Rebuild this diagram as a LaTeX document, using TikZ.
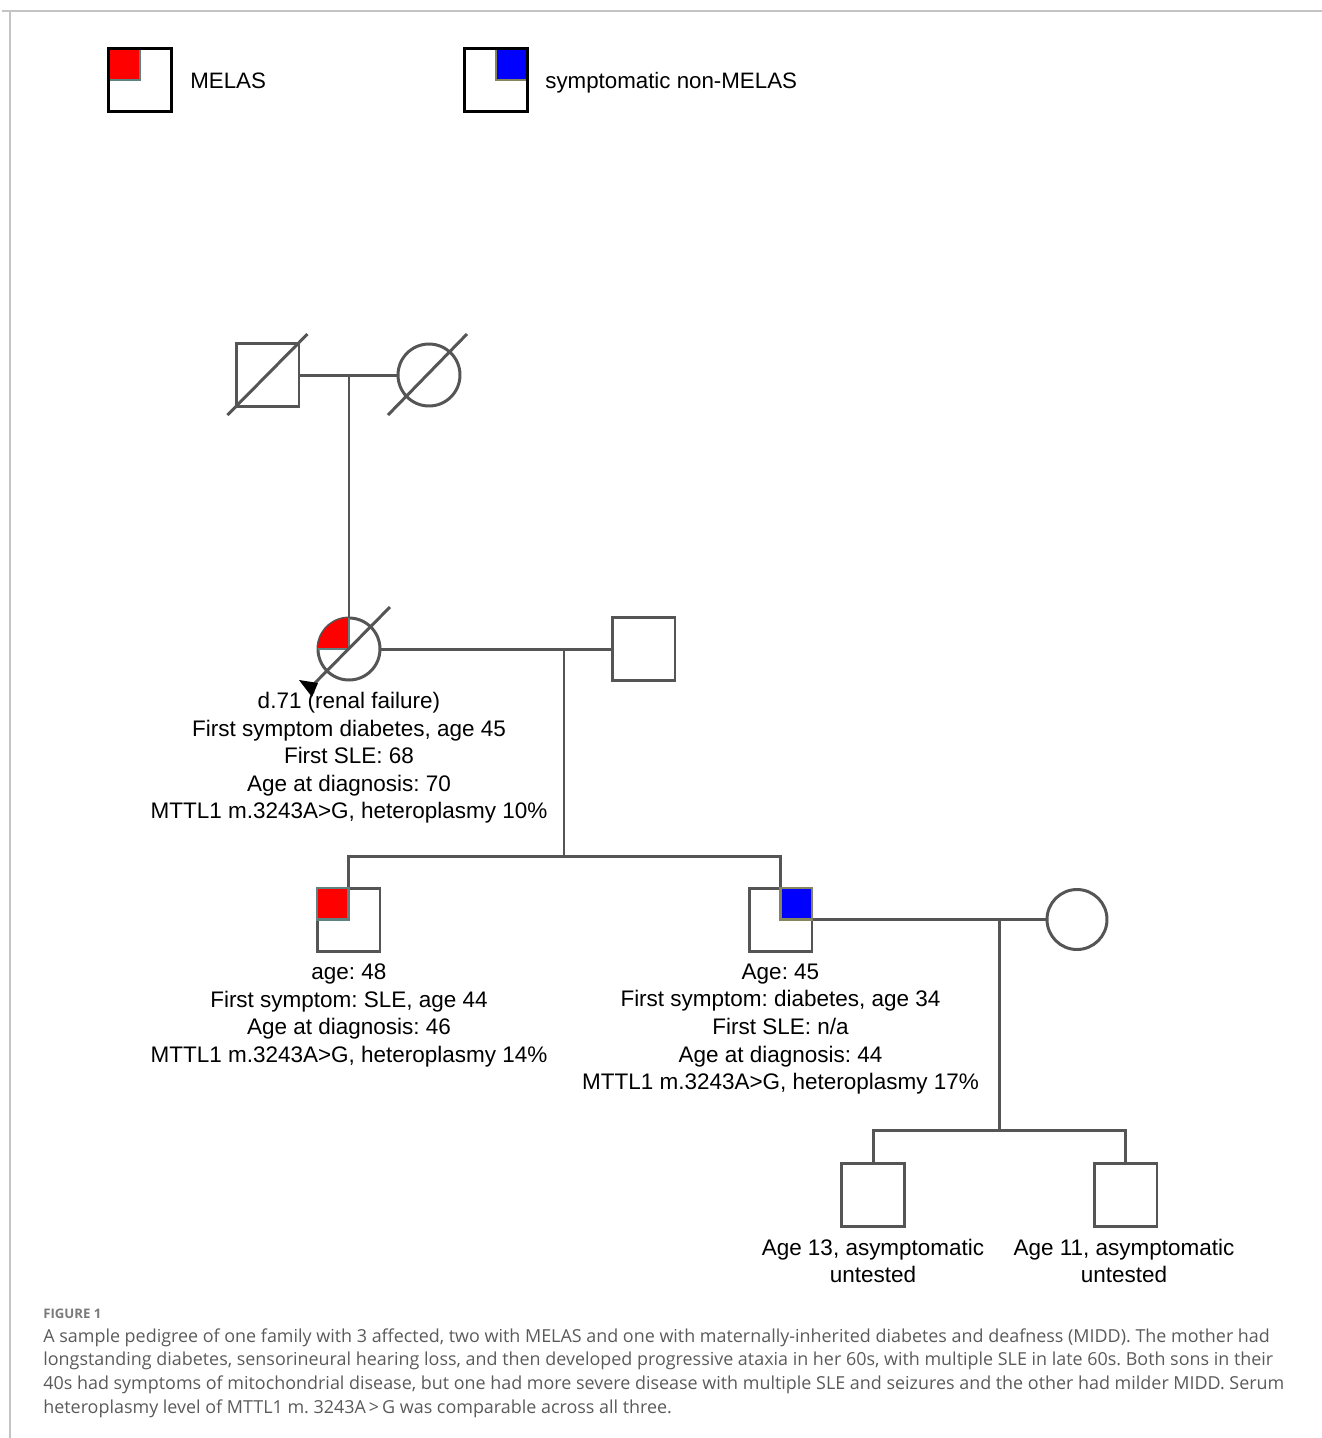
\documentclass[tikz,border=0pt]{standalone}
\usepackage{fontspec}
\setmainfont{Liberation Sans}
\newfontfamily\capfont{Open Sans}
\usetikzlibrary{positioning,calc}
\frenchspacing
\definecolor{pedgray}{HTML}{555555}
\definecolor{framegray}{HTML}{C4C4C4}
\definecolor{melasred}{HTML}{FF0000}
\definecolor{melasedge}{HTML}{5E8282}
\definecolor{nonblue}{HTML}{0000FF}
\definecolor{nonedge}{HTML}{86865E}
\definecolor{capgray}{HTML}{5A5A5A}
\definecolor{figgray}{HTML}{7A7A7A}
\tikzset{
  male/.style={rectangle, draw=pedgray, line width=1.7pt, minimum size=1.26cm, inner sep=0pt},
  female/.style={circle, draw=pedgray, line width=1.7pt, minimum size=1.24cm, inner sep=0pt},
  legbox/.style={rectangle, draw=black, line width=1.9pt, minimum size=1.27cm, inner sep=0pt},
  link/.style={draw=pedgray, line width=1.7pt},
  slash/.style={draw=pedgray, line width=1.7pt},
  melasq/.style={fill=melasred, draw=melasedge, line width=1.4pt},
  nonq/.style={fill=nonblue, draw=nonedge, line width=1.4pt},
  pedtext/.style={align=center, inner sep=0pt, text=black, font=\fontsize{12.8}{15.7}\selectfont},
  legtext/.style={anchor=base west, inner sep=0pt, text=black, font=\fontsize{12.7}{15.7}\selectfont},
  figtag/.style={anchor=base west, inner sep=0pt, text=figgray, font=\capfont\bfseries\fontsize{7.5}{9}\selectfont},
  captext/.style={anchor=north west, align=left, inner sep=0pt, text=capgray, font=\capfont\fontsize{10.2}{13.6}\selectfont}
}

\begin{document}
\begin{tikzpicture}[x=0.02cm, y=-0.02cm]
  \useasboundingbox (0,0) rectangle (1322,1438);
  \draw[framegray, line width=1.1pt] (2,11) -- (1322,11);
  \draw[framegray, line width=1.1pt] (10,11) -- (10,1438);

  % legend
  \coordinate (lm) at (140,80);
  \fill[melasred] (lm) rectangle ++(-31,-31);
  \draw[melasedge, line width=1.4pt] ($(lm)+(-31,0)$) -- (lm) -- ++(0,-31);
  \node[legbox] (lmelas) at (lm) {};
  \node[legtext] (lmelastxt) at (190,88) {MELAS};
  \coordinate (ln) at (496,80);
  \fill[nonblue] (ln) rectangle ++(31,-31);
  \draw[nonedge, line width=1.4pt] ($(ln)+(31,0)$) -- (ln) -- ++(0,-31);
  \node[legbox] (lnon) at (ln) {};
  \node[legtext] (lnontxt) at (545,88) {symptomatic non-MELAS};

  % generation I
  \node[male] (gf) at (267.5,375) {};
  \node[female] (gm) at (429,375) {};
  \draw[link] (gf) -- (gm);
  \draw[slash] ($(gf)+(-40,40)$) -- ($(gf)+(40,-41)$);
  \draw[slash] ($(gm)+(-41,40)$) -- ($(gm)+(38,-41)$);

  % generation II
  \node[female] (mo) at (349,649) {};
  \node[male] (fa) at (643.5,649) {};
  \draw[link] (mo) -- (mo |- gf);
  \draw[link] (mo) -- (fa);
  \fill[melasred] (mo.center) -- ++(-31,0) arc[start angle=180, end angle=90, radius=0.62cm] -- cycle;
  \draw[melasedge, line width=1.4pt] ($(mo.center)+(-31,0)$) -- (mo.center) -- ++(0,-31);
  \draw[slash] ($(mo)+(41,-42)$) -- ($(mo)+(-41,41)$);
  \fill[black] ($(mo)+(-50,31)$) -- ($(mo)+(-31,34)$) -- ($(mo)+(-37,48)$) -- cycle;
  \node[pedtext, anchor=north] (molab) at (349,692) {d.71 (renal failure)\\First symptom diabetes, age 45\\First SLE: 68\\Age at diagnosis: 70\\MTTL1 m.3243A>G, heteroplasmy 10\%};

  % generation III
  \coordinate (mar2) at (564,649);
  \coordinate (sib2) at (564,856);
  \node[male] (s1) at (348.5,919.5) {};
  \node[male] (s2) at (780.5,919.5) {};
  \node[female, minimum size=1.2cm] (wi) at (1077,919.5) {};
  \draw[link] (mar2) -- (sib2);
  \draw[link] (s1.north) |- (sib2) -| (s2.north);
  \draw[link] (s2) -- (wi);
  \filldraw[melasq] (s1.center) rectangle ++(-31.5,-31.5);
  \filldraw[nonq] (s2.center) rectangle ++(31.5,-31.5);
  \node[pedtext, anchor=north] (s1lab) at (349,963.5) {age: 48\\First symptom: SLE, age 44\\Age at diagnosis: 46\\MTTL1 m.3243A>G, heteroplasmy 14\%};
  \node[pedtext, anchor=north] (s2lab) at (780.5,963.5) {Age: 45\\First symptom: diabetes, age 34\\First SLE: n/a\\Age at diagnosis: 44\\MTTL1 m.3243A>G, heteroplasmy 17\%};

  % generation IV
  \coordinate (mar3) at (999,919.5);
  \coordinate (sib3) at (999,1130);
  \node[male] (g1) at (873,1194.5) {};
  \node[male] (g2) at (1125.5,1194.5) {};
  \draw[link] (mar3) -- (sib3);
  \draw[link] (g1.north) |- (sib3) -| (g2.north);
  \node[pedtext, anchor=north] (g1lab) at (873,1238.5) {Age 13, asymptomatic\\untested};
  \node[pedtext, anchor=north] (g2lab) at (1124,1238.5) {Age 11, asymptomatic\\untested};

  % caption
  \node[figtag] (fig) at (43,1318.5) {FIGURE 1};
  \node[captext] (cap) at (43,1328) {A sample pedigree of one family with 3 affected, two with MELAS and one with maternally-inherited diabetes and deafness (MIDD). The mother had\\longstanding diabetes, sensorineural hearing loss, and then developed progressive ataxia in her 60s, with multiple SLE in late 60s. Both sons in their\\40s had symptoms of mitochondrial disease, but one had more severe disease with multiple SLE and seizures and the other had milder MIDD. Serum\\heteroplasmy level of MTTL1 m. 3243A\,>\,G was comparable across all three.};
\end{tikzpicture}
\end{document}
